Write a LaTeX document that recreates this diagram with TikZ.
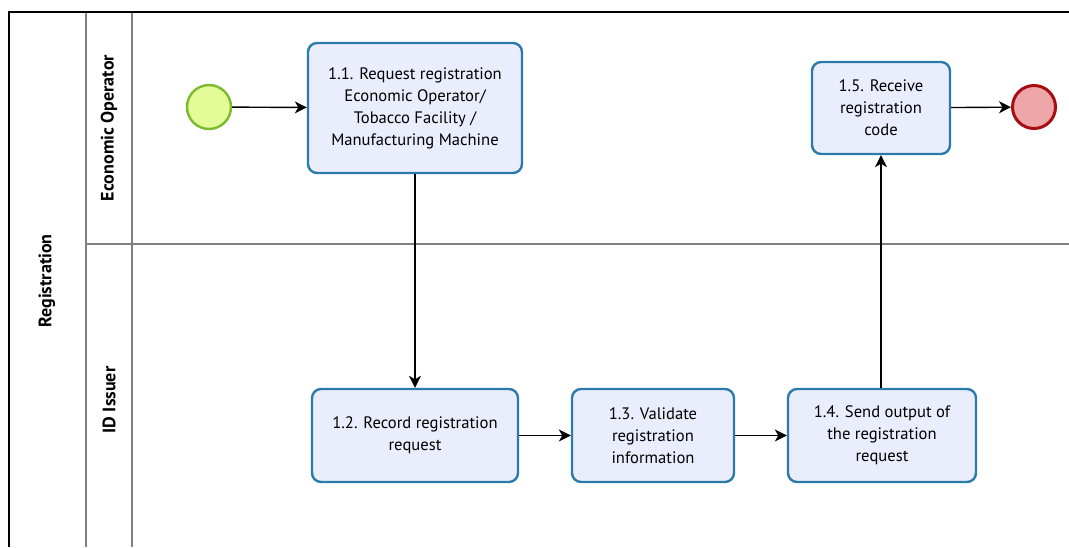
\documentclass[tikz,border=0pt]{standalone}
\usepackage{fontspec}
\setmainfont{PT Sans}
\usetikzlibrary{arrows.meta}
\definecolor{taskfill}{HTML}{EAEEFC}
\definecolor{taskline}{HTML}{2A7AAA}
\definecolor{startfill}{HTML}{E4FC98}
\definecolor{startline}{HTML}{7DBA2E}
\definecolor{endfill}{HTML}{EFA6A8}
\definecolor{endline}{HTML}{A50E12}
\definecolor{laneline}{HTML}{808080}
\tikzset{
  task/.style={draw=taskline, fill=taskfill, line width=2.4pt, rounded corners=9pt,
    align=center, font=\fontsize{16.6}{22}\selectfont, inner sep=0pt},
  startev/.style={circle, draw=startline, fill=startfill, line width=2.4pt, minimum size=44pt, inner sep=0pt},
  endev/.style={circle, draw=endline, fill=endfill, line width=3pt, minimum size=43pt, inner sep=0pt},
  flow/.style={-{Stealth[length=12pt,width=12pt,inset=3.5pt]}, line width=1.4pt, black},
  lanelabel/.style={rotate=90, font=\bfseries\fontsize{18}{22}\selectfont},
  lane/.style={draw=laneline, line width=1.2pt}
}
\begin{document}
\begin{tikzpicture}[x=1pt,y=-1pt]
\useasboundingbox (0,0) rectangle (1069,547);
% pool and lanes
\draw[lane] (86,12) -- (1069,12);
\draw[lane] (86,12) -- (86,547);
\draw[lane] (132,12) -- (132,547);
\draw[lane] (86,244) -- (1069,244);
\draw[line width=1.4pt, black] (1069,12) -- (9,12) -- (9,547);
\node[lanelabel] (pool) at (47,281) {Registration};
\node[lanelabel] (laneA) at (109,128) {Economic Operator};
\node[lanelabel] (laneB) at (109,400) {ID Issuer};

% events
\node[startev] (start) at (209,107) {};
\node[endev] (end) at (1034,107) {};

% tasks
\node[task, minimum width=214pt, minimum height=130pt] (t11) at (415,108)
  {1.1. Request registration\\Economic Operator/\\Tobacco Facility /\\Manufacturing Machine};
\node[task, minimum width=206pt, minimum height=93pt] (t12) at (415,435.5)
  {1.2. Record registration\\request};
\node[task, minimum width=162pt, minimum height=93pt] (t13) at (653,435.5)
  {1.3. Validate\\registration\\information};
\node[task, minimum width=188pt, minimum height=93pt] (t14) at (882,435.5)
  {1.4. Send output of\\the registration\\request};
\node[task, minimum width=138pt, minimum height=92pt] (t15) at (881,108)
  {1.5. Receive\\registration\\code};

% sequence flows
\draw[flow] (start) -- (t11);
\draw[flow] (t11.south) -- (t12.north);
\draw[flow] (t12) -- (t13);
\draw[flow] (t13) -- (t14);
\draw[flow] (t14.north -| t15.south) -- (t15.south);
\draw[flow] (t15) -- (end);
\end{tikzpicture}
\end{document}
